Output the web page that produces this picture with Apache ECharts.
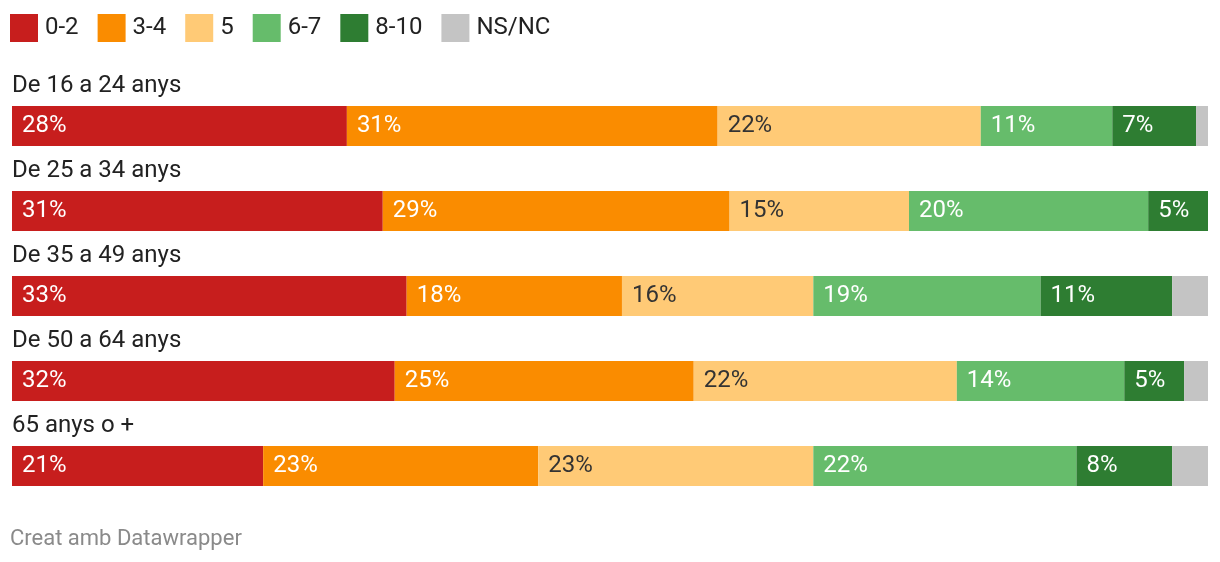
<!DOCTYPE html>
<html>
<head>
<meta charset="utf-8">
<script src="https://cdn.jsdelivr.net/npm/echarts@6/dist/echarts.min.js"></script>
<style>
html,body{margin:0;padding:0;background:#fff;}
#c{width:1220px;height:562px;}
</style>
</head>
<body>
<div id="c"></div>
<script>
const categories = ['De 16 a 24 anys','De 25 a 34 anys','De 35 a 49 anys','De 50 a 64 anys','65 anys o +'];
const seriesNames = ['0-2','3-4','5','6-7','8-10','NS/NC'];
const v02   = [28, 31, 33, 32, 21];
const v34   = [31, 29, 18, 25, 23];
const v5    = [22, 15, 16, 22, 23];
const v67   = [11, 20, 19, 14, 22];
const v810  = [7, 5, 11, 5, 8];
const vNSNC = [1, 0, 3, 2, 3];

const colors = ['#c71e1d','#fa8c00','#ffca76','#66bc6b','#2e7d32','#c4c4c4'];
const labelColors = ['#ffffff','#ffffff','#333333','#ffffff','#ffffff','#333333'];
const allValues = [v02, v34, v5, v67, v810, vNSNC];

const FONT = 'Roboto, "Noto Sans", sans-serif';

const series = seriesNames.map((name, i) => ({
  name: name,
  type: 'bar',
  stack: 'total',
  barWidth: 40,
  data: allValues[i],
  itemStyle: { color: colors[i] },
  emphasis: { disabled: true },
  label: {
    show: true,
    position: 'insideLeft',
    distance: 10,
    color: labelColors[i],
    fontFamily: FONT,
    fontSize: 24,
    padding: [2, 0, 0, 0],
    formatter: p => (p.value >= 4 ? p.value + '%' : '')
  }
}));

const chart = echarts.init(document.getElementById('c'), null, { renderer: 'canvas' });
chart.setOption({
  animation: false,
  backgroundColor: '#ffffff',
  color: colors,
  legend: {
    left: 10,
    top: 14,
    padding: 0,
    itemWidth: 28,
    itemHeight: 28,
    itemGap: 19,
    icon: 'rect',
    selectedMode: false,
    textStyle: { fontFamily: FONT, fontSize: 24, color: '#222222', padding: [5, 0, 0, 2] },
    data: seriesNames
  },
  title: {
    text: 'Creat amb Datawrapper',
    left: 10,
    top: 528,
    padding: 0,
    textStyle: { fontFamily: FONT, fontSize: 22, fontWeight: 'normal', color: '#8a8a8a' }
  },
  grid: { left: 12, right: 12, top: 83.5, bottom: 53.5, containLabel: false },
  xAxis: { type: 'value', min: 0, max: 100, show: false },
  yAxis: {
    type: 'category',
    data: categories,
    inverse: true,
    axisLine: { show: false },
    axisTick: { show: false },
    splitLine: { show: false },
    axisLabel: {
      inside: true,
      margin: 0,
      align: 'left',
      verticalAlign: 'bottom',
      lineHeight: 80,
      fontFamily: FONT,
      fontSize: 24,
      color: '#222222'
    },
    z: 10
  },
  series: series
});
</script>
</body>
</html>
